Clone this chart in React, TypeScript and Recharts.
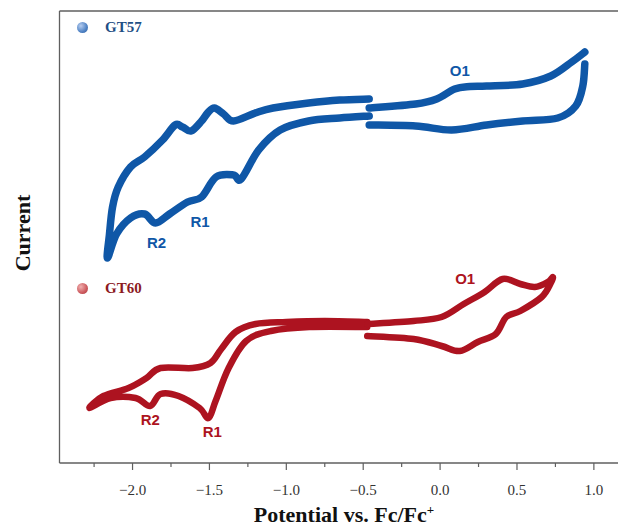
import { LineChart, Line, XAxis, YAxis, ReferenceLine, ReferenceDot, Label, Legend } from "recharts";

// potential (V vs Fc/Fc+), current (arb. units)
const gt57Left: [number, number][] = [
  [-0.461, 36.4], [-0.653, 36.3], [-0.855, 36.0], [-1.086, 35.5], [-1.202, 35.0],
  [-1.343, 34.2], [-1.408, 34.9], [-1.468, 35.5], [-1.512, 35.0], [-1.551, 34.2],
  [-1.619, 33.2], [-1.675, 33.6], [-1.723, 33.8], [-1.805, 32.3], [-1.922, 30.6],
  [-2.013, 29.6], [-2.093, 27.6], [-2.13, 25.6], [-2.15, 22.9], [-2.163, 20.5],
  [-2.104, 22.9], [-2.013, 24.5], [-1.922, 24.9], [-1.85, 24.0], [-1.759, 24.9],
  [-1.642, 26.1], [-1.551, 26.6], [-1.457, 28.6], [-1.343, 28.8], [-1.294, 28.4],
  [-1.18, 31.3], [-1.04, 33.3], [-0.855, 34.2], [-0.653, 34.5], [-0.461, 34.7],
];
const gt57RightAnodic: [number, number][] = [
  [-0.461, 35.5], [-0.159, 35.9], [-0.022, 36.4], [0.095, 37.4], [0.193, 37.65],
  [0.303, 37.7], [0.537, 37.9], [0.72, 38.7], [0.856, 40.1], [0.941, 41.1],
];
const gt57RightCathodic: [number, number][] = [
  [0.941, 39.9], [0.928, 37.7], [0.882, 35.7], [0.765, 34.5], [0.537, 34.2],
  [0.303, 33.8], [0.075, 33.3], [-0.159, 33.7], [-0.461, 33.8],
];

const gt60Left: [number, number][] = [
  [-0.474, 14.1], [-0.75, 14.2], [-1.0, 14.1], [-1.2, 13.9], [-1.33, 13.1],
  [-1.423, 11.4], [-1.493, 10.0], [-1.61, 9.5], [-1.818, 9.5], [-1.909, 8.5],
  [-2.026, 7.5], [-2.189, 6.7], [-2.28, 5.5], [-2.143, 6.5], [-1.98, 6.5],
  [-1.886, 5.7], [-1.818, 6.9], [-1.701, 6.7], [-1.564, 5.5], [-1.506, 4.5],
  [-1.46, 6.2], [-1.375, 9.5], [-1.261, 12.2], [-1.1, 13.2], [-0.85, 13.6],
  [-0.474, 13.6],
];
const gt60Right: [number, number][] = [
  [-0.474, 13.9], [-0.172, 14.2], [0.01, 14.6], [0.154, 15.9], [0.29, 17.1],
  [0.407, 18.4], [0.522, 17.9], [0.616, 17.6], [0.7, 18.1], [0.733, 18.6],
  [0.72, 18.0], [0.661, 16.6], [0.522, 15.2], [0.43, 14.6], [0.362, 12.9],
  [0.245, 12.1], [0.128, 11.2], [0.01, 11.7], [-0.172, 12.4], [-0.474, 12.7],
];

const peakLabels57: [string, number, number][] = [["O1", 0.128, 39.2], ["R1", -1.561, 24.1], ["R2", -1.844, 22.0]];
const peakLabels60: [string, number, number][] = [["O1", 0.163, 18.4], ["R2", -1.885, 4.3], ["R1", -1.481, 3.1]];

const potentialTicks = [-2.25, -2.0, -1.75, -1.5, -1.25, -1.0, -0.75, -0.5, -0.25, 0, 0.25, 0.5, 0.75, 1.0, 1.25];
const seriesNames = ["GT57", "GT60"];

const BLUE = "#0f57a7";
const RED = "#ad1320";
const AXIS = "#5f5f5f";
const SERIF = "'Liberation Serif', 'DejaVu Serif', serif";
const SANS = "'Liberation Sans', Arial, sans-serif";

const toPoints = (pairs: [number, number][]) => pairs.map(([e, i]) => ({ e, i }));

// Catmull-Rom through the points, for traces that double back on themselves
function catmullRom(context: any) {
  let pts: [number, number][] = [];
  return {
    areaStart() {},
    areaEnd() {},
    lineStart() {
      pts = [];
    },
    point(x: number, y: number) {
      pts.push([+x, +y]);
    },
    lineEnd() {
      if (!pts.length) return;
      context.moveTo(pts[0][0], pts[0][1]);
      for (let k = 0; k < pts.length - 1; k++) {
        const p0 = pts[k - 1] || pts[k];
        const p1 = pts[k];
        const p2 = pts[k + 1];
        const p3 = pts[k + 2] || p2;
        context.bezierCurveTo(
          p1[0] + (p2[0] - p0[0]) / 6,
          p1[1] + (p2[1] - p0[1]) / 6,
          p2[0] - (p3[0] - p1[0]) / 6,
          p2[1] - (p3[1] - p1[1]) / 6,
          p2[0],
          p2[1],
        );
      }
    },
  };
}

function PotentialTick({ x, y, payload }: any) {
  const v: number = payload.value;
  const major = Math.abs(v * 2 - Math.round(v * 2)) < 1e-6;
  const text = v < 0 ? `\u2212${Math.abs(v).toFixed(1)}` : v.toFixed(1);
  return (
    <g>
      <line x1={x} x2={x} y1={y} y2={y + (major ? 7 : 4)} stroke={AXIS} strokeWidth={1.2} />
      {major && (
        <text x={x} y={y + 32} textAnchor="middle" fontFamily={SERIF} fontSize={15} fill="#333">
          {text}
        </text>
      )}
    </g>
  );
}

function SeriesLegend() {
  const rows = [
    { name: seriesNames[0], top: 27, text: "#1f4f86", ball: "radial-gradient(circle at 35% 35%, #b6cdf0, #4f82c4 60%, #2f5f9f)" },
    { name: seriesNames[1], top: 288, text: "#8c1a1f", ball: "radial-gradient(circle at 35% 35%, #f1b0b0, #cc5a5e 60%, #a8333a)" },
  ];
  return (
    <div style={{ position: "relative", width: 618, height: 527 }}>
      {rows.map((r) => (
        <div key={r.name} style={{ position: "absolute", left: 77, top: r.top - 9, height: 18, display: "flex", alignItems: "center" }}>
          <span style={{ width: 11, height: 11, borderRadius: "50%", background: r.ball, display: "inline-block" }} />
          <span style={{ marginLeft: 17, fontFamily: SERIF, fontWeight: 700, fontSize: 15, color: r.text }}>{r.name}</span>
        </div>
      ))}
    </div>
  );
}

export default function App() {
  return (
    <div style={{ position: "absolute", left: 0, top: 0, width: 618, height: 527, overflow: "hidden", background: "#fff" }}>
      <LineChart width={660} height={527} margin={{ top: 11, right: 10, bottom: 0, left: 0 }}>
        <XAxis
          dataKey="e"
          type="number"
          domain={[-2.475, 1.365]}
          ticks={potentialTicks}
          interval={0}
          tickSize={0}
          tickMargin={0}
          tickLine={false}
          tick={<PotentialTick />}
          height={64}
          axisLine={{ stroke: AXIS, strokeWidth: 1.3 }}
          allowDataOverflow
        >
          <Label
            content={() => (
              <text x={344} y={522} textAnchor="middle" fontFamily={SERIF} fontWeight={700} fontSize={22} fill="#111">
                Potential vs. Fc/Fc
                <tspan dy={-8} fontSize={13}>+</tspan>
              </text>
            )}
          />
        </XAxis>
        <YAxis
          type="number"
          domain={[0, 45.2]}
          width={59.5}
          tick={false}
          tickLine={false}
          axisLine={{ stroke: AXIS, strokeWidth: 1.3 }}
          allowDataOverflow
        >
          <Label
            content={() => (
              <text x={30} y={233} transform="rotate(-90 30 233)" textAnchor="middle" fontFamily={SERIF} fontWeight={700} fontSize={22} fill="#111">
                Current
              </text>
            )}
          />
        </YAxis>
        <ReferenceLine y={45.2} stroke={AXIS} strokeWidth={1.3} ifOverflow="visible" />
        <Legend layout="horizontal" verticalAlign="middle" align="center" content={<SeriesLegend />} wrapperStyle={{ left: 0, top: 0, width: 618, height: 527 }} />

        {[gt57Left, gt57RightAnodic, gt57RightCathodic].map((seg, k) => (
          <Line key={`b${k}`} data={toPoints(seg)} dataKey="i" type={catmullRom as any} stroke={BLUE} strokeWidth={7.5}
            strokeLinecap="round" strokeLinejoin="round" dot={false} activeDot={false} isAnimationActive={false} legendType="none" />
        ))}
        {[gt60Left, gt60Right].map((seg, k) => (
          <Line key={`r${k}`} data={toPoints(seg)} dataKey="i" type={catmullRom as any} stroke={RED} strokeWidth={6.5}
            strokeLinecap="round" strokeLinejoin="round" dot={false} activeDot={false} isAnimationActive={false} legendType="none" />
        ))}

        {peakLabels57.map(([t, e, i]) => (
          <ReferenceDot key={`l57${t}`} x={e} y={i} r={0} stroke="none" ifOverflow="visible">
            <Label value={t} position="center" fill={BLUE} fontFamily={SANS} fontWeight={700} fontSize={15} />
          </ReferenceDot>
        ))}
        {peakLabels60.map(([t, e, i]) => (
          <ReferenceDot key={`l60${t}`} x={e} y={i} r={0} stroke="none" ifOverflow="visible">
            <Label value={t} position="center" fill={RED} fontFamily={SANS} fontWeight={700} fontSize={15} />
          </ReferenceDot>
        ))}
      </LineChart>
    </div>
  );
}
